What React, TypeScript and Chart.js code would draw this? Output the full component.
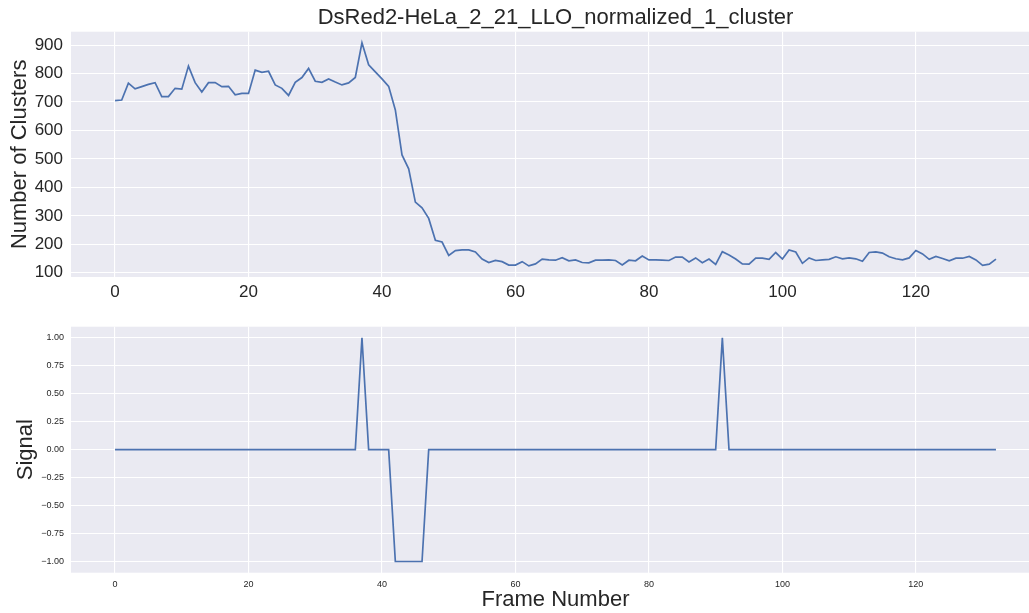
import React, { useEffect, useRef } from 'react';
import { Chart, registerables } from 'chart.js';

Chart.register(...registerables);

const TITLE = 'DsRed2-HeLa_2_21_LLO_normalized_1_cluster';
const Y1_TITLE = 'Number of Clusters';
const Y2_TITLE = 'Signal';
const X_TITLE = 'Frame Number';

const CLUSTERS = [
  705, 707, 766, 746, 754, 762, 768, 719, 719, 748,
  745, 826, 768, 735, 768, 768, 754, 755, 725, 730,
  730, 812, 804, 808, 760, 748, 723, 769, 786, 818,
  773, 769, 781, 770, 760, 767, 786, 908, 831, 806,
  781, 755, 672, 514, 465, 348, 328, 291, 214, 208,
  161, 178, 180, 180, 173, 148, 136, 143, 139, 127,
  127, 139, 124, 131, 148, 145, 144, 153, 142, 145,
  136, 135, 144, 144, 145, 143, 127, 144, 142, 159,
  145, 145, 144, 143, 155, 155, 138, 152, 135, 148,
  129, 174, 162, 148, 131, 130, 151, 151, 147, 171,
  148, 180, 173, 133, 152, 143, 145, 147, 156, 149,
  152, 149, 140, 171, 173, 169, 156, 149, 145, 152,
  178, 166, 147, 157, 150, 142, 151, 151, 157, 145,
  126, 130, 148,
];

const SIGNAL = [
  0, 0, 0, 0, 0, 0, 0, 0, 0, 0,
  0, 0, 0, 0, 0, 0, 0, 0, 0, 0,
  0, 0, 0, 0, 0, 0, 0, 0, 0, 0,
  0, 0, 0, 0, 0, 0, 0, 1, 0, 0,
  0, 0, -1, -1, -1, -1, -1, 0, 0, 0,
  0, 0, 0, 0, 0, 0, 0, 0, 0, 0,
  0, 0, 0, 0, 0, 0, 0, 0, 0, 0,
  0, 0, 0, 0, 0, 0, 0, 0, 0, 0,
  0, 0, 0, 0, 0, 0, 0, 0, 0, 0,
  0, 1, 0, 0, 0, 0, 0, 0, 0, 0,
  0, 0, 0, 0, 0, 0, 0, 0, 0, 0,
  0, 0, 0, 0, 0, 0, 0, 0, 0, 0,
  0, 0, 0, 0, 0, 0, 0, 0, 0, 0,
  0, 0, 0,
];

const X_TICKS = [0, 20, 40, 60, 80, 100, 120];
const CLUSTER_TICKS = [100, 200, 300, 400, 500, 600, 700, 800, 900];
const SIGNAL_TICKS = [-1, -0.75, -0.5, -0.25, 0, 0.25, 0.5, 0.75, 1];

const BG = '#EAEAF2';
const LINE = '#4C72B0';
const TEXT = '#262626';
const FONT = '"Liberation Sans", Arial, sans-serif';

const bgPlugin = {
  id: 'bgArea',
  beforeDraw(chart: any) {
    const { ctx, chartArea: a } = chart;
    ctx.save();
    ctx.fillStyle = BG;
    ctx.fillRect(a.left, a.top, a.right - a.left, a.bottom - a.top);
    ctx.restore();
  },
};

const titlePlugin = {
  id: 'topTitle',
  afterDraw(chart: any) {
    const t = chart.options.plugins?.topTitle;
    if (!t || !t.text) return;
    const { ctx, chartArea: a } = chart;
    ctx.save();
    ctx.fillStyle = TEXT;
    ctx.font = `22px ${FONT}`;
    ctx.textAlign = 'center';
    ctx.textBaseline = 'middle';
    ctx.fillText(t.text, (a.left + a.right) / 2, t.y);
    ctx.restore();
  },
};

function buildChart(canvas: HTMLCanvasElement, cfg: any) {
  const points = cfg.values.map((v: number, i: number) => ({ x: i, y: v }));
  return new Chart(canvas, {
    type: 'line',
    data: {
      datasets: [
        {
          data: points,
          borderColor: LINE,
          borderWidth: 1.7,
          pointRadius: 0,
          tension: 0,
          fill: false,
        },
      ],
    },
    options: {
      responsive: false,
      animation: false,
      layout: { padding: { top: cfg.padTop, left: 0, right: 0, bottom: 0 } },
      plugins: {
        legend: { display: false },
        tooltip: { enabled: false },
        title: { display: false },
        topTitle: cfg.title ? { text: cfg.title, y: 18 } : undefined,
      } as any,
      scales: {
        x: {
          type: 'linear',
          min: -6.6,
          max: 138.6,
          afterBuildTicks: (s: any) => {
            s.ticks = X_TICKS.map((v) => ({ value: v }));
          },
          afterFit: (s: any) => {
            s.height = cfg.xHeight;
          },
          grid: { color: '#FFFFFF', lineWidth: 1.1, drawTicks: false },
          border: { display: false },
          ticks: {
            color: TEXT,
            font: { family: FONT, size: cfg.xTickSize },
            padding: cfg.xTickPad,
            maxRotation: 0,
            callback: (v: any) => String(v),
          },
          title: cfg.xTitle
            ? {
                display: true,
                text: cfg.xTitle,
                color: TEXT,
                font: { family: FONT, size: 22 },
                padding: { top: 0, bottom: 0 },
              }
            : { display: false },
        },
        y: {
          type: 'linear',
          min: cfg.yMin,
          max: cfg.yMax,
          afterBuildTicks: (s: any) => {
            s.ticks = cfg.yTicks.map((v: number) => ({ value: v }));
          },
          afterFit: (s: any) => {
            s.width = 71;
          },
          grid: { color: '#FFFFFF', lineWidth: 1.1, drawTicks: false },
          border: { display: false },
          ticks: {
            color: TEXT,
            font: { family: FONT, size: cfg.yTickSize },
            padding: cfg.yTickPad,
            callback: cfg.yFmt,
          },
          title: {
            display: true,
            text: cfg.yTitle,
            color: TEXT,
            font: { family: FONT, size: 22 },
            padding: { top: cfg.yTitlePad, bottom: 0 },
          },
        },
      },
    } as any,
    plugins: [bgPlugin, titlePlugin],
  });
}

export default function App() {
  const topRef = useRef<HTMLCanvasElement>(null);
  const botRef = useRef<HTMLCanvasElement>(null);

  useEffect(() => {
    const c1 = buildChart(topRef.current!, {
      values: CLUSTERS,
      title: TITLE,
      padTop: 31.7,
      xHeight: 33,
      xTickSize: 17,
      xTickPad: 5,
      yMin: 85,
      yMax: 947,
      yTicks: CLUSTER_TICKS,
      yTickSize: 17,
      yTickPad: 8,
      yFmt: (v: any) => String(v),
      yTitle: Y1_TITLE,
      yTitlePad: 7,
    });
    const c2 = buildChart(botRef.current!, {
      values: SIGNAL,
      title: null,
      padTop: 26.7,
      xHeight: 40.3,
      xTickSize: 9,
      xTickPad: 6,
      xTitle: X_TITLE,
      yMin: -1.1,
      yMax: 1.1,
      yTicks: SIGNAL_TICKS,
      yTickSize: 9,
      yTickPad: 7,
      yFmt: (v: any) => Number(v).toFixed(2).replace('-', '\u2212'),
      yTitle: Y2_TITLE,
      yTitlePad: 13,
    });
    return () => {
      c1.destroy();
      c2.destroy();
    };
  }, []);

  return (
    <div
      style={{
        position: 'fixed',
        left: 0,
        top: 0,
        width: 1029,
        height: 613,
        overflow: 'hidden',
        background: '#FFFFFF',
      }}
    >
      <canvas
        ref={topRef}
        width={1040}
        height={310}
        style={{ position: 'absolute', left: 0, top: 0, width: 1040, height: 310 }}
      />
      <canvas
        ref={botRef}
        width={1040}
        height={313}
        style={{ position: 'absolute', left: 0, top: 300, width: 1040, height: 313 }}
      />
    </div>
  );
}
